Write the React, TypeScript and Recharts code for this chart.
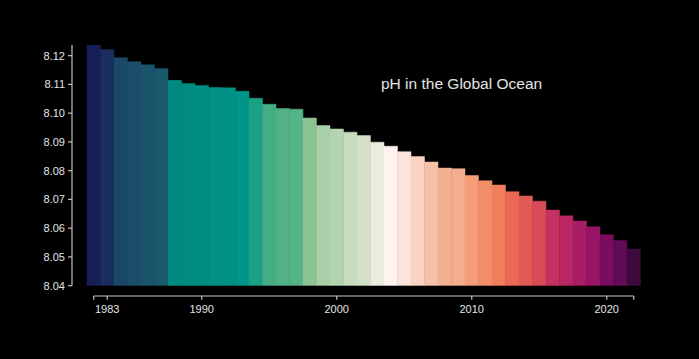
import React from "react";
import { BarChart, Bar, XAxis, YAxis, Cell, ReferenceLine } from "recharts";

const years = [
  1982, 1983, 1984, 1985, 1986, 1987, 1988, 1989, 1990, 1991,
  1992, 1993, 1994, 1995, 1996, 1997, 1998, 1999, 2000, 2001,
  2002, 2003, 2004, 2005, 2006, 2007, 2008, 2009, 2010, 2011,
  2012, 2013, 2014, 2015, 2016, 2017, 2018, 2019, 2020, 2021, 2022,
];

const phValues = [
  8.1237, 8.1221, 8.1193, 8.1179, 8.1168, 8.1155, 8.1114, 8.1103, 8.1096, 8.1089,
  8.1088, 8.1076, 8.1052, 8.1031, 8.1016, 8.1014, 8.0983, 8.0957, 8.0945, 8.0934,
  8.0922, 8.0899, 8.0885, 8.0866, 8.0849, 8.083, 8.0809, 8.0807, 8.0783, 8.0765,
  8.075, 8.0727, 8.0712, 8.0694, 8.0663, 8.0643, 8.0625, 8.0605, 8.0577, 8.0557, 8.0528,
];

const barColors = [
  "#161f56", "#1b2c5f", "#1b4866", "#1b4f69", "#1a546a", "#1a596c", "#008a80", "#008c82", "#008e83", "#009084",
  "#009084", "#009589", "#1aa185", "#43ae86", "#52b287", "#55b388", "#8cc393", "#a8cfa6", "#b4d4b1", "#c7dbbd",
  "#d3e0c7", "#ebebdf", "#fff3f0", "#fce3dc", "#f9d2c2", "#f6c1a9", "#f4b093", "#f4ae8f", "#f49f7a", "#f38f68",
  "#f0805d", "#ea6855", "#e35a55", "#d84a58", "#c6325f", "#b92663", "#a81d67", "#981467", "#7a0d60", "#620b58", "#3c0a3d",
];

const yTicks = [8.04, 8.05, 8.06, 8.07, 8.08, 8.09, 8.1, 8.11, 8.12];
const xTickMarks = [1982, 1983, 1990, 2000, 2010, 2020, 2022];
const xTickLabels = [1983, 1990, 2000, 2010, 2020];

const yMin = 8.04;
const yMax = 8.1237;
const xSpineY = 8.03642;

const title = "pH in the Global Ocean";

const data = years.map((year, i) => ({ year, ph: phValues[i] }));

const AXIS_COLOR = "#c4c4c4";
const TEXT_COLOR = "#e4e4e4";
const FONT = "'Liberation Sans', Arial, sans-serif";

const XTick = (props: any) => {
  const { x, y, payload } = props;
  const yr = Number(payload.value);
  if (!xTickMarks.includes(yr)) return <g />;
  return (
    <g>
      <line x1={x} x2={x} y1={y + 10.3} y2={y + 14} stroke={AXIS_COLOR} strokeWidth={1.2} />
      {xTickLabels.includes(yr) && (
        <text
          x={x}
          y={y + 27.3}
          textAnchor="middle"
          fill={TEXT_COLOR}
          fontSize={11}
          fontFamily={FONT}
        >
          {yr}
        </text>
      )}
    </g>
  );
};

export default function App() {
  return (
    <div
      style={{
        position: "fixed",
        left: 0,
        top: 0,
        width: 699,
        height: 359,
        background: "#000000",
        overflow: "hidden",
      }}
    >
      <BarChart
        width={699}
        height={359}
        data={data}
        margin={{ top: 45, right: 58.5, left: 0, bottom: 33.3 }}
        barCategoryGap={0}
        barGap={0}
      >
        <XAxis
          dataKey="year"
          type="category"
          interval={0}
          padding={{ left: 15, right: 0 }}
          axisLine={false}
          tickLine={false}
          tickSize={0}
          tickMargin={0}
          height={40}
          tick={<XTick />}
        />
        <YAxis
          type="number"
          domain={[yMin, yMax]}
          ticks={yTicks}
          width={72}
          tickSize={4}
          tickMargin={3}
          axisLine={{ stroke: AXIS_COLOR, strokeWidth: 1.2 }}
          tickLine={{ stroke: AXIS_COLOR, strokeWidth: 1.2 }}
          tick={{ fill: TEXT_COLOR, fontSize: 11, fontFamily: FONT }}
          tickFormatter={(v: number) => v.toFixed(2)}
          allowDataOverflow
        />
        <Bar dataKey="ph" barSize={13.49} isAnimationActive={false}>
          {data.map((d, i) => (
            <Cell key={d.year} fill={barColors[i]} stroke={barColors[i]} strokeWidth={0.5} />
          ))}
        </Bar>
        <ReferenceLine
          segment={[
            { x: xTickMarks[0], y: xSpineY },
            { x: xTickMarks[xTickMarks.length - 1], y: xSpineY },
          ]}
          stroke={AXIS_COLOR}
          strokeWidth={1.2}
          ifOverflow="visible"
        />
      </BarChart>
      <div
        style={{
          position: "absolute",
          left: 381,
          top: 76,
          fontFamily: FONT,
          fontSize: 15.5,
          lineHeight: "15.5px",
          color: TEXT_COLOR,
          whiteSpace: "nowrap",
        }}
      >
        {title}
      </div>
    </div>
  );
}
